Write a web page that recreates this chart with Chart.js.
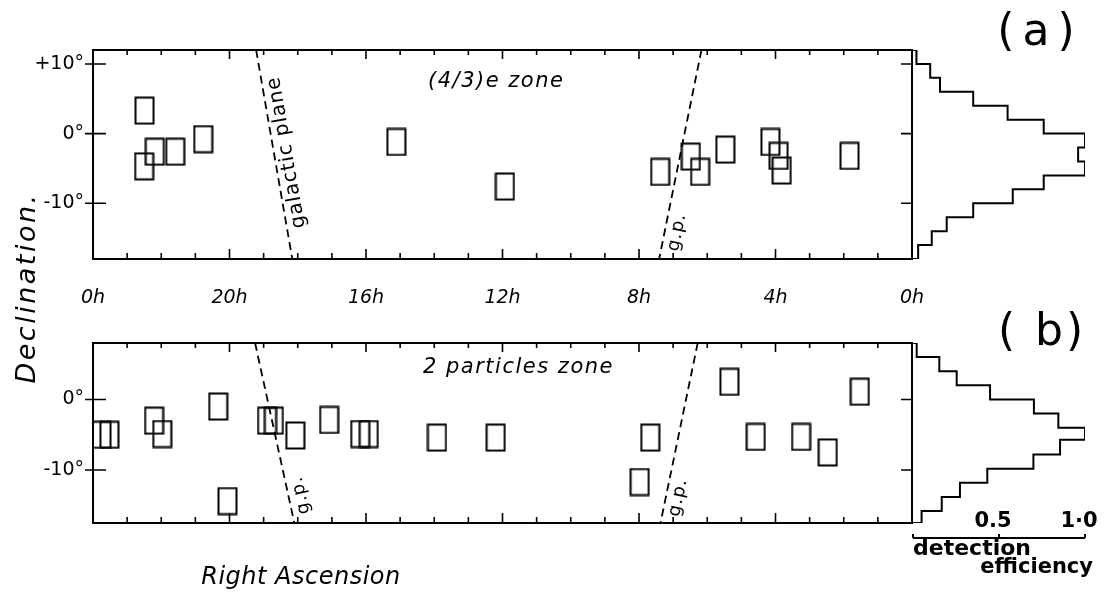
<!DOCTYPE html>
<html><head><meta charset="utf-8">
<script src="https://cdn.jsdelivr.net/npm/chart.js@4.4.0/dist/chart.umd.min.js"></script>
<style>
html,body{margin:0;padding:0;background:#fff;}
#wrap{position:relative;width:1109px;height:595px;overflow:hidden;background:#fff;}
#wrap canvas{position:absolute;left:0;top:0;}
</style></head><body>
<div id="wrap">
<canvas id="cA" width="1109" height="595"></canvas>
<canvas id="cB" width="1109" height="595"></canvas>
<canvas id="hA" width="1109" height="595"></canvas>
<canvas id="hB" width="1109" height="595"></canvas>
</div>
<script>
// ---------- data ----------
// panel (a): (4/3)e zone events  (RA in hours, declination in degrees)
const raA  = [22.49, 22.50, 22.19, 21.59, 20.77, 15.11, 11.93, 7.38, 6.48, 6.21, 5.47, 4.15, 3.91, 3.82, 1.83];
const decA = [3.3, -4.7, -2.6, -2.6, -0.8, -1.2, -7.6, -5.5, -3.3, -5.5, -2.3, -1.2, -3.2, -5.3, -3.2];
// panel (b): 2 particles zone events
const raB  = [23.75, 23.52, 22.21, 21.97, 20.33, 20.06, 18.90, 18.70, 18.07, 17.08, 16.17, 15.92, 13.92, 12.20, 7.67, 7.98, 5.35, 4.58, 3.25, 2.47, 1.53];
const decB = [-5.0, -5.0, -3.0, -4.9, -1.0, -14.4, -3.0, -3.0, -5.1, -2.9, -4.9, -4.9, -5.4, -5.4, -5.4, -11.7, 2.5, -5.3, -5.3, -7.5, 1.1];
// galactic plane lines [RA, Dec] end points
const gpA1 = [[19.22, 12], [18.16, -18]];
const gpA2 = [[6.17, 12], [7.41, -18]];
const gpB1 = [[19.25, 8], [18.10, -17.5]];
const gpB2 = [[6.28, 8], [7.37, -17.5]];
// detection efficiency histograms: declination bin edges and efficiency
const edgesA = [12, 10, 8, 6, 4, 2, 0, -2, -4, -6, -8, -10, -12, -14, -16, -18];
const effA   = [0.02, 0.10, 0.157, 0.35, 0.55, 0.76, 1.0, 0.96, 1.0, 0.76, 0.58, 0.35, 0.196, 0.109, 0.03];
const edgesB = [8, 6, 4, 2, 0, -2, -4, -5.7, -7.8, -9.8, -11.8, -13.8, -15.8, -17.5];
const effB   = [0.0215, 0.153, 0.254, 0.448, 0.703, 0.845, 1.0, 0.855, 0.70, 0.432, 0.273, 0.167, 0.05];
// ticks
const raTickValues = [24, 20, 16, 12, 8, 4, 0];
const raTickLabels = ['0h', '20h', '16h', '12h', '8h', '4h', '0h'];
const decTicksA = [10, 0, -10];
const decTicksB = [0, -10];
const decTickLabels = {'10': '+10°', '0': '0°', '-10': '-10°'};
const effTickValues = [0, 0.5, 1.0];
const effTickLabels = ['', '0.5', '1·0'];

// ---------- helpers ----------
const W = 1109, H = 595;
const FAM = "'DejaVu Sans', 'Liberation Sans', sans-serif";
function rectStyle(w, h, lw) {
  const c = document.createElement('canvas');
  c.width = w + lw + 1; c.height = h + lw + 1;
  const g = c.getContext('2d');
  g.strokeStyle = '#000'; g.lineWidth = lw;
  g.strokeRect(lw / 2 + 0.5, lw / 2 + 0.5, w, h);
  return c;
}
const boxStyle = rectStyle(18, 26, 2);
const pts = (ra, dec) => ra.map((r, i) => ({x: r, y: dec[i]}));
const linePts = l => l.map(p => ({x: p[0], y: p[1]}));
function stepPoints(edges, vals) {
  const p = [{x: 0, y: edges[0]}];
  vals.forEach((v, i) => { p.push({x: v, y: edges[i]}); p.push({x: v, y: edges[i + 1]}); });
  p.push({x: 0, y: edges[edges.length - 1]});
  return p;
}
function gpDataset(l) {
  return {data: linePts(l), showLine: true, pointRadius: 0, borderColor: '#000',
          borderWidth: 1.8, borderDash: [8, 5], fill: false};
}
function text(ctx, s, x, y, font, align, base, spacing, rot) {
  ctx.save();
  ctx.font = font; ctx.fillStyle = '#000';
  ctx.textAlign = align || 'left'; ctx.textBaseline = base || 'middle';
  try { ctx.letterSpacing = (spacing || 0) + 'px'; } catch (e) {}
  ctx.translate(x, y);
  if (rot) ctx.rotate(rot);
  ctx.fillText(s, 0, 0);
  ctx.restore();
}

// panel decoration plugin: frame, inward ticks, labels along galactic-plane lines
const panelDeco = {
  id: 'panelDeco',
  afterDraw(chart, args, o) {
    const {ctx, chartArea: a, scales: {x, y}} = chart;
    ctx.save();
    ctx.strokeStyle = '#000'; ctx.lineWidth = 2;
    ctx.strokeRect(a.left, a.top, a.right - a.left, a.bottom - a.top);
    ctx.lineWidth = 1.6;
    ctx.beginPath();
    for (let h = 0; h <= 24; h++) {
      const px = x.getPixelForValue(h), major = h % 4 === 0;
      ctx.moveTo(px, a.top); ctx.lineTo(px, a.top + (major ? 9 : 5));
      ctx.moveTo(px, a.bottom); ctx.lineTo(px, a.bottom - (major ? 10 : 6));
    }
    o.decTicks.forEach(v => {
      const py = y.getPixelForValue(v);
      ctx.moveTo(a.left - 8, py); ctx.lineTo(a.left + 13, py);
      ctx.moveTo(a.right - 11, py); ctx.lineTo(a.right, py);
    });
    ctx.stroke();
    ctx.restore();
    // labels along the dashed lines
    o.lineLabels.forEach(L => {
      const p0 = {x: x.getPixelForValue(L.line[1][0]), y: y.getPixelForValue(L.line[1][1])};
      const p1 = {x: x.getPixelForValue(L.line[0][0]), y: y.getPixelForValue(L.line[0][1])};
      const ang = Math.atan2(p1.y - p0.y, p1.x - p0.x);
      const cx = p0.x + (p1.x - p0.x) * L.t, cy = p0.y + (p1.y - p0.y) * L.t;
      ctx.save();
      ctx.translate(cx, cy); ctx.rotate(ang);
      ctx.font = L.font; ctx.fillStyle = '#000';
      ctx.textAlign = 'center'; ctx.textBaseline = 'alphabetic';
      try { ctx.letterSpacing = (L.sp || 0) + 'px'; } catch (e) {}
      ctx.fillText(L.text, 0, L.off);
      ctx.restore();
    });
    (o.texts || []).forEach(t => text(ctx, t.s, t.x, t.y, t.font, t.align, t.base, t.sp, t.rot));
  }
};

const histDeco = {
  id: 'histDeco',
  afterDraw(chart, args, o) {
    const {ctx, chartArea: a, scales: {x}} = chart;
    if (o.axis) {
      const yy = a.bottom + 15;
      ctx.save(); ctx.strokeStyle = '#000'; ctx.lineWidth = 2;
      ctx.beginPath();
      ctx.moveTo(x.getPixelForValue(0), yy); ctx.lineTo(x.getPixelForValue(1), yy);
      effTickValues.forEach(v => { const px = x.getPixelForValue(v); ctx.moveTo(px, yy); ctx.lineTo(px, yy - 4); });
      ctx.stroke(); ctx.restore();
      effTickValues.forEach((v, i) => {
        if (effTickLabels[i]) text(ctx, effTickLabels[i], x.getPixelForValue(v) - 6, yy - 16, 'bold 21px ' + FAM, 'center', 'middle', 0);
      });
    }
    (o.texts || []).forEach(t => text(ctx, t.s, t.x, t.y, t.font, t.align, t.base, t.sp, t.rot));
  }
};
Chart.register(panelDeco, histDeco);
Chart.defaults.font.family = FAM;
Chart.defaults.color = '#000';

const AXH = 56;
function panelConfig(ra, dec, g1, g2, yMin, yMax, decTicks, padTop, padBottom, showRA, deco) {
  return {
    type: 'scatter',
    data: {datasets: [
      {data: pts(ra, dec), pointStyle: boxStyle, pointRadius: 10, pointHoverRadius: 10},
      gpDataset(g1), gpDataset(g2)
    ]},
    options: {
      responsive: false, animation: false, devicePixelRatio: 1,
      layout: {padding: {left: 0, right: W - 912, top: padTop, bottom: padBottom}},
      plugins: {legend: {display: false}, tooltip: {enabled: false}, panelDeco: deco, histDeco: false},
      scales: {
        x: {type: 'linear', min: 0, max: 24, reverse: true, display: showRA,
            afterBuildTicks: s => { s.ticks = raTickValues.map(v => ({value: v})); },
            afterFit: s => { s.height = showRA ? AXH : 0; },
            grid: {display: false, drawTicks: false}, border: {display: false},
            ticks: {padding: 28, maxRotation: 0, autoSkip: false,
                    font: {size: 19, style: 'italic'},
                    callback: (v) => raTickLabels[raTickValues.indexOf(v)]}},
        y: {type: 'linear', min: yMin, max: yMax,
            afterBuildTicks: s => { s.ticks = decTicks.map(v => ({value: v})); },
            afterFit: s => { s.width = 93; },
            grid: {display: false, drawTicks: false}, border: {display: false},
            ticks: {padding: 9, font: {size: 19}, callback: v => decTickLabels[String(v)]}}
      }
    }
  };
}

new Chart(document.getElementById('cA'), panelConfig(raA, decA, gpA1, gpA2, -18, 12, decTicksA, 50, H - 259 - AXH, true, {
  decTicks: decTicksA,
  lineLabels: [
    {line: gpA1, t: 0.5, off: 18, text: 'galactic plane', font: '20px ' + FAM, sp: 1},
    {line: gpA2, t: 0.14, off: 17, text: 'g.p.', font: '18px ' + FAM, sp: 1}
  ],
  texts: [
    {s: '(4/3)e zone', x: 428, y: 82, font: 'italic 21px ' + FAM, sp: 1.5},
    {s: 'Declination.', x: 28, y: 288, font: 'italic 27px ' + FAM, align: 'center', sp: 2.5, rot: -Math.PI / 2}
  ]
}));

new Chart(document.getElementById('cB'), panelConfig(raB, decB, gpB1, gpB2, -17.5, 8, decTicksB, 343, H - 523, false, {
  decTicks: decTicksB,
  lineLabels: [
    {line: gpB1, t: 0.14, off: 17, text: 'g.p.', font: '18px ' + FAM, sp: 1},
    {line: gpB2, t: 0.155, off: 17, text: 'g.p.', font: '18px ' + FAM, sp: 1}
  ],
  texts: [
    {s: '2 particles zone', x: 423, y: 368, font: 'italic 21px ' + FAM, sp: 1.5},
    {s: 'Right Ascension', x: 301, y: 578, font: 'italic 24px ' + FAM, align: 'center', sp: 0.5}
  ]
}));

function histConfig(edges, eff, yMin, yMax, padTop, padBottom, deco) {
  return {
    type: 'scatter',
    data: {datasets: [{data: stepPoints(edges, eff), showLine: true, pointRadius: 0,
                       borderColor: '#000', borderWidth: 2, fill: false}]},
    options: {
      responsive: false, animation: false, devicePixelRatio: 1,
      layout: {padding: {left: 913, right: W - 1085, top: padTop, bottom: padBottom}},
      plugins: {legend: {display: false}, tooltip: {enabled: false}, panelDeco: false, histDeco: deco},
      scales: {
        x: {type: 'linear', min: 0, max: 1, display: false},
        y: {type: 'linear', min: yMin, max: yMax, display: false}
      }
    }
  };
}

new Chart(document.getElementById('hA'), histConfig(edgesA, effA, -18, 12, 50, H - 259, {
  axis: false,
  texts: [{s: '(a)', x: 1040, y: 34, font: '44px ' + FAM, align: 'center', sp: 8}]
}));
new Chart(document.getElementById('hB'), histConfig(edgesB, effB, -17.5, 8, 343, H - 523, {
  axis: true,
  texts: [
    {s: '( b)', x: 1042, y: 334, font: '44px ' + FAM, align: 'center', sp: 3},
    {s: 'detection', x: 913, y: 549, font: 'bold 22px ' + FAM, align: 'left'},
    {s: 'efficiency', x: 1093, y: 568, font: 'bold 21px ' + FAM, align: 'right'}
  ]
}));
</script>
</body></html>
